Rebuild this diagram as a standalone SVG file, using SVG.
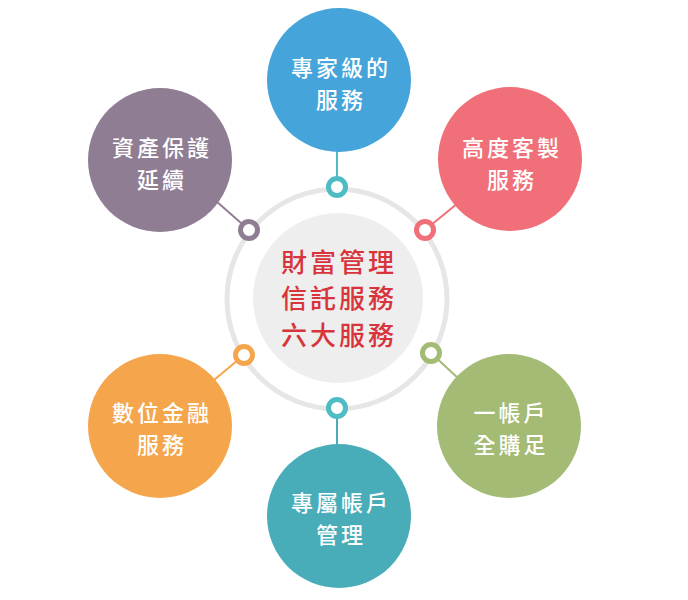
<svg xmlns="http://www.w3.org/2000/svg" width="688" height="600" viewBox="0 0 688 600">
<style>
.node text{font-family:"Noto Sans CJK TC","Noto Sans CJK SC",sans-serif;font-size:22px;font-weight:500;fill:#ffffff;text-anchor:middle;letter-spacing:3px}
.center text{font-family:"Noto Sans CJK TC","Noto Sans CJK SC",sans-serif;font-size:26px;font-weight:500;fill:#d8343c;text-anchor:middle;letter-spacing:3px}
.dot{fill:#ffffff;stroke-width:5}
.conn line{stroke-width:2}
</style>
<rect width="688" height="600" fill="#ffffff"/>
<g id="center" class="center">
<circle cx="337" cy="299" r="110" fill="none" stroke="#e6e6e6" stroke-width="5"/>
<circle cx="338" cy="298" r="85" fill="#eeeeee"/>
<text x="339" y="272">財富管理</text>
<text x="339" y="308">信託服務</text>
<text x="339" y="345">六大服務</text>
</g>
<g id="connectors" class="conn">
<line x1="337" y1="187" x2="337" y2="150" stroke="#4dbcc5"/>
<line x1="425" y1="230" x2="458" y2="203" stroke="#f06f78"/>
<line x1="431" y1="353" x2="460" y2="380" stroke="#a3bb74"/>
<line x1="337" y1="408" x2="337" y2="446" stroke="#48adb8"/>
<line x1="244" y1="355" x2="214" y2="380" stroke="#f5a54b"/>
<line x1="249" y1="230" x2="216" y2="201" stroke="#8f7d94"/>
<circle class="dot" cx="337" cy="187" r="8.5" stroke="#4dbcc5"/>
<circle class="dot" cx="425" cy="230" r="8.5" stroke="#f06f78"/>
<circle class="dot" cx="431" cy="353" r="8.5" stroke="#a3bb74"/>
<circle class="dot" cx="337" cy="408" r="8.5" stroke="#4dbcc5"/>
<circle class="dot" cx="244" cy="355" r="8.5" stroke="#f5a54b"/>
<circle class="dot" cx="249" cy="230" r="8.5" stroke="#8f7d94"/>
</g>
<g id="node-top" class="node">
<circle cx="339" cy="80" r="72" fill="#45a4da"/>
<text x="341" y="76">專家級的</text>
<text x="341" y="108">服務</text>
</g>
<g id="node-topright" class="node">
<circle cx="510" cy="159" r="72" fill="#f06f78"/>
<text x="512" y="156">高度客製</text>
<text x="512" y="188">服務</text>
</g>
<g id="node-bottomright" class="node">
<circle cx="509" cy="426" r="72" fill="#a3bb74"/>
<text x="511" y="421">一帳戶</text>
<text x="511" y="453">全購足</text>
</g>
<g id="node-bottom" class="node">
<circle cx="339" cy="516" r="72" fill="#48adb8"/>
<text x="341" y="511">專屬帳戶</text>
<text x="341" y="543">管理</text>
</g>
<g id="node-bottomleft" class="node">
<circle cx="160" cy="426" r="72" fill="#f5a54b"/>
<text x="162" y="421">數位金融</text>
<text x="162" y="453">服務</text>
</g>
<g id="node-topleft" class="node">
<circle cx="160" cy="160" r="72" fill="#8f7d94"/>
<text x="162" y="156">資產保護</text>
<text x="162" y="188">延續</text>
</g>
</svg>
